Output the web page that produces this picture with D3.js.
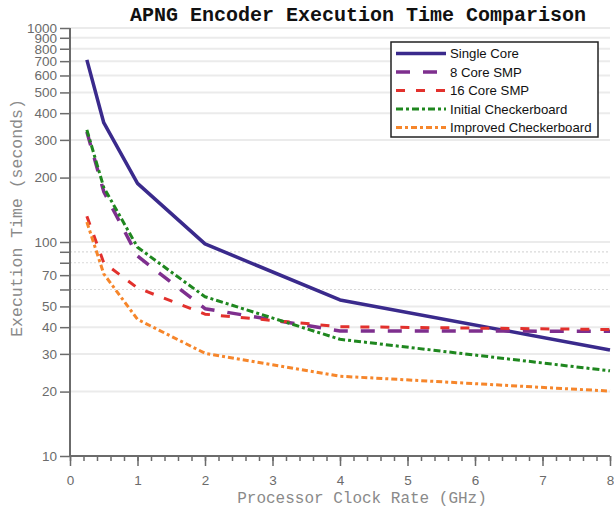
<html>
<head>
<meta charset="utf-8">
<title>APNG Encoder Execution Time Comparison</title>
<style>
    body { margin: 0; background: white; }
    svg { display: block; }
    .tick text { font: 13.5px "Liberation Sans", Arial, sans-serif; fill: #6b6b6b; }
    .mono { font-family: "Liberation Mono", "Courier New", monospace; }
</style>
<script src="https://cdn.jsdelivr.net/npm/d3@7"></script>
</head>
<body>
<div id="chart"></div>
<script>
    // data
    var clockRates = [0.25, 0.5, 1, 2, 4, 8];
    var singleCore = [710, 361, 188, 98, 53.6, 31.3];
    var smp8 = [327, 172, 86, 48.8, 38.4, 38.3];
    var smp16 = [132, 80, 61, 46, 40.2, 39];
    var initialCheckerboard = [334, 180, 94.5, 55.5, 35.1, 25];
    var improvedCheckerboard = [124, 71, 43.5, 30.2, 23.6, 20.1];

    var seriesNames = ['Single Core', '8 Core SMP', '16 Core SMP', 'Initial Checkerboard', 'Improved Checkerboard'];
    var seriesValues = [singleCore, smp8, smp16, initialCheckerboard, improvedCheckerboard];
    var seriesColors = ['#3a2a8c', '#7e2f8e', '#e2312d', '#1f871f', '#f6862b'];
    var seriesDash = [null, '14,13', '9,11', '7,3,3,3', '6,3,3,3'];
    var seriesWidth = [3.5, 3.5, 3, 3, 3];

    var yTicks = [10, 20, 30, 40, 50, 60, 70, 80, 90, 100, 200, 300, 400, 500, 600, 700, 800, 900, 1000];
    var yLabelled = [10, 20, 30, 40, 50, 70, 100, 200, 300, 400, 500, 600, 700, 800, 900, 1000];
    var xTicks = [0, 1, 2, 3, 4, 5, 6, 7, 8];
    var xMinorTicks = d3.range(0, 41).map(function(i) { return i * 0.2; });

    var W = 614, H = 508;
    var plotLeft = 70, plotRight = 610, plotTop = 28, plotBottom = 456;

    var svg = d3.select('#chart').append('svg')
            .attr('width', W)
            .attr('height', H);

    var x = d3.scaleLinear().domain([0, 8]).range([plotLeft, plotRight]);
    var y = d3.scaleLog().domain([10, 1000]).range([plotBottom, plotTop]);

    function isLabelled(d) { return yLabelled.indexOf(d) >= 0; }

    // grid
    svg.append('g').selectAll('line')
            .data(yTicks.filter(function(d) { return d > 10; }))
        .enter().append('line')
            .attr('x1', plotLeft)
            .attr('x2', plotRight)
            .attr('y1', function(d) { return y(d); })
            .attr('y2', function(d) { return y(d); })
            .attr('stroke', function(d) { return isLabelled(d) ? '#ebebeb' : '#d9d9d9'; })
            .attr('stroke-width', function(d) { return isLabelled(d) ? 2 : 1.2; })
            .attr('stroke-dasharray', function(d) { return isLabelled(d) ? null : '2,2'; });

    // lines
    var line = d3.line()
            .x(function(d, i) { return x(clockRates[i]); })
            .y(function(d) { return y(d); });

    svg.append('g').selectAll('path')
            .data(seriesValues)
        .enter().append('path')
            .attr('d', line)
            .attr('fill', 'none')
            .attr('stroke', function(d, i) { return seriesColors[i]; })
            .attr('stroke-width', function(d, i) { return seriesWidth[i]; })
            .attr('stroke-dasharray', function(d, i) { return seriesDash[i]; })
            .attr('stroke-linejoin', 'round');

    // axes
    var yAxis = d3.axisLeft(y)
            .tickValues(yTicks)
            .tickSize(10)
            .tickPadding(3)
            .tickFormat(function(d) { return isLabelled(d) ? d : ''; });

    var gy = svg.append('g')
            .attr('transform', 'translate(' + plotLeft + ',0)')
            .call(yAxis);

    var gxMinor = svg.append('g')
            .attr('transform', 'translate(0,' + plotBottom + ')')
            .call(d3.axisBottom(x).tickValues(xMinorTicks).tickSize(5).tickFormat(''));

    var gx = svg.append('g')
            .attr('transform', 'translate(0,' + plotBottom + ')')
            .call(d3.axisBottom(x).tickValues(xTicks).tickSize(10).tickPadding(9).tickFormat(d3.format('d')));

    [gy, gx, gxMinor].forEach(function(g) {
        g.selectAll('.domain').attr('stroke', '#6b6b6b').attr('stroke-width', 2);
        g.selectAll('.tick line').attr('stroke', '#6b6b6b').attr('stroke-width', 1.5);
    });
    gxMinor.select('.domain').attr('d', 'M' + plotLeft + ',0H' + plotRight);
    gx.select('.domain').attr('d', 'M' + plotLeft + ',0H' + plotRight);
    gy.select('.domain').attr('d', 'M0,' + plotBottom + 'V' + plotTop);

    // title and axis labels
    svg.append('text')
            .attr('class', 'mono')
            .attr('x', 358)
            .attr('y', 21)
            .attr('text-anchor', 'middle')
            .style('font-size', '20px')
            .style('font-weight', 'bold')
            .attr('fill', '#111')
            .text('APNG Encoder Execution Time Comparison');

    svg.append('text')
            .attr('class', 'mono')
            .attr('x', 362)
            .attr('y', 503)
            .attr('text-anchor', 'middle')
            .style('font-size', '16px')
            .attr('fill', '#8a8a8a')
            .text('Processor Clock Rate (GHz)');

    svg.append('text')
            .attr('class', 'mono')
            .attr('transform', 'translate(22,218) rotate(-90)')
            .attr('text-anchor', 'middle')
            .style('font-size', '16.5px')
            .attr('fill', '#8a8a8a')
            .text('Execution Time (seconds)');

    // legend
    var legend = svg.append('g').attr('transform', 'translate(391,42)');
    legend.append('rect')
            .attr('width', 207)
            .attr('height', 95)
            .attr('fill', 'white')
            .attr('stroke', '#222')
            .attr('stroke-width', 1.5);

    var items = legend.selectAll('g.item')
            .data(seriesNames)
        .enter().append('g')
            .attr('class', 'item')
            .attr('transform', function(d, i) { return 'translate(0,' + (11.5 + i * 18.5) + ')'; });

    items.append('line')
            .attr('x1', 5)
            .attr('x2', 55)
            .attr('stroke', function(d, i) { return seriesColors[i]; })
            .attr('stroke-width', function(d, i) { return seriesWidth[i]; })
            .attr('stroke-dasharray', function(d, i) { return seriesDash[i]; });

    items.append('text')
            .attr('x', 59)
            .attr('dy', '0.35em')
            .style('font', '13.2px "Liberation Sans", Arial, sans-serif')
            .attr('fill', '#111')
            .text(function(d) { return d; });
</script>
</body>
</html>
